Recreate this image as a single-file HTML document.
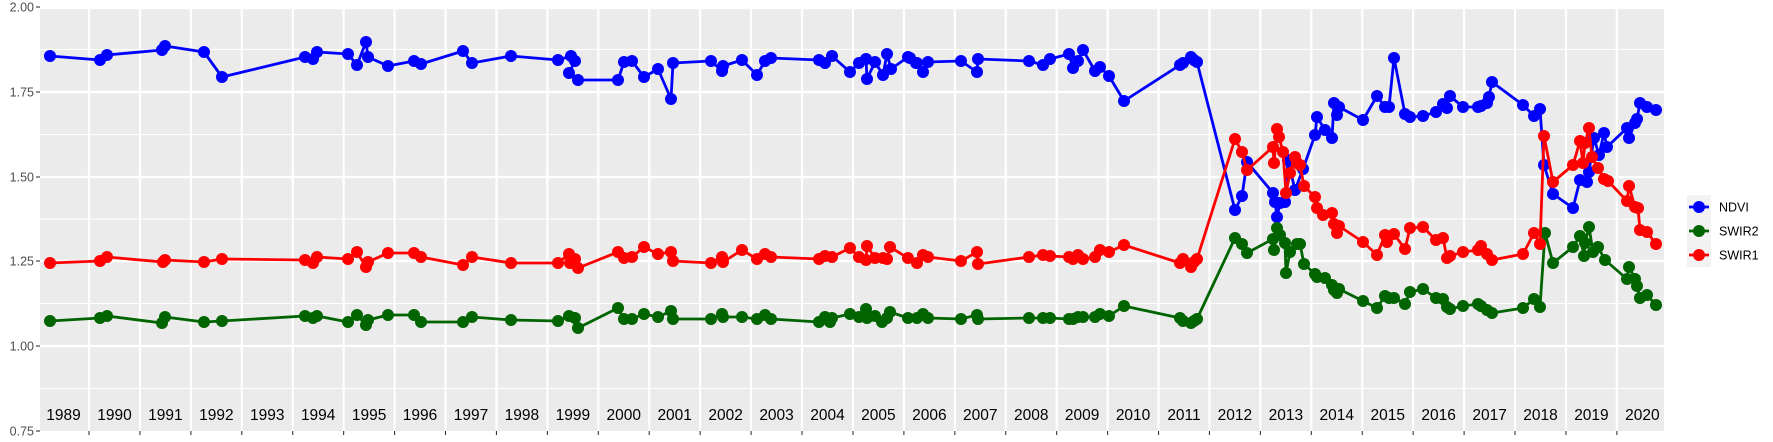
<!DOCTYPE html>
<html><head><meta charset="utf-8"><style>
html,body{margin:0;padding:0;background:#fff}
svg{display:block}
text{font-family:"Liberation Sans",sans-serif}
</style></head><body>
<svg width="1773" height="442" viewBox="0 0 1773 442" xmlns="http://www.w3.org/2000/svg">
<rect x="40" y="7" width="1624" height="424" fill="#ebebeb"/>
<g stroke="#fff" stroke-width="1">
<line x1="40" x2="1664" y1="49.5" y2="49.5"/><line x1="40" x2="1664" y1="134.5" y2="134.5"/><line x1="40" x2="1664" y1="219" y2="219"/><line x1="40" x2="1664" y1="303.5" y2="303.5"/><line x1="40" x2="1664" y1="388.5" y2="388.5"/>
</g>
<g stroke="#fff" stroke-width="2.2">
<line x1="40" x2="1664" y1="8" y2="8"/><line x1="40" x2="1664" y1="92" y2="92"/><line x1="40" x2="1664" y1="177" y2="177"/><line x1="40" x2="1664" y1="261" y2="261"/><line x1="40" x2="1664" y1="346" y2="346"/>
</g>
<g id="vl" stroke="#fff" stroke-width="2.2"></g>
<g id="ticks" stroke="#333" stroke-width="1.1">
<line x1="36" x2="40" y1="7" y2="7"/><line x1="36" x2="40" y1="92" y2="92"/><line x1="36" x2="40" y1="177" y2="177"/><line x1="36" x2="40" y1="261" y2="261"/><line x1="36" x2="40" y1="346" y2="346"/><line x1="36" x2="40" y1="431" y2="431"/>
</g>
<g font-size="12.5" fill="#4d4d4d" text-anchor="end">
<text x="34" y="11.5">2.00</text><text x="34" y="96.5">1.75</text><text x="34" y="181.5">1.50</text><text x="34" y="265.5">1.25</text><text x="34" y="350.5">1.00</text><text x="34" y="435.5">0.75</text>
</g>
<g id="yl" font-size="15.5" fill="#000" text-anchor="middle"></g>
<g id="series"></g>
<rect x="1687" y="195" width="24" height="72" fill="#f2f2f2"/>
<g stroke-width="2.8">
<line x1="1689" x2="1709" y1="207" y2="207" stroke="#0000ff"/><circle cx="1699" cy="207" r="6" fill="#0000ff"/>
<line x1="1689" x2="1709" y1="231" y2="231" stroke="#006400"/><circle cx="1699" cy="231" r="6" fill="#006400"/>
<line x1="1689" x2="1709" y1="255" y2="255" stroke="#ff0000"/><circle cx="1699" cy="255" r="6" fill="#ff0000"/>
</g>
<g font-size="12.5" fill="#000">
<text x="1719" y="211.5">NDVI</text><text x="1719" y="235.5">SWIR2</text><text x="1719" y="259.5">SWIR1</text>
</g>
</svg>
<script>
var NS="http://www.w3.org/2000/svg";
function el(t,a,p){var e=document.createElementNS(NS,t);for(var k in a)e.setAttribute(k,a[k]);p.appendChild(e);return e;}
var vl=document.getElementById('vl'),tk=document.getElementById('ticks'),yl=document.getElementById('yl');
for(var k=0;k<=30;k++){var x=89+k*50.93;el('line',{x1:x,x2:x,y1:7,y2:431},vl);el('line',{x1:x,x2:x,y1:431,y2:435},tk);}
for(var k=0;k<=31;k++){var t=el('text',{x:89+(k-0.5)*50.93,y:420},yl);t.textContent=String(1989+k);}
var N=[[50,56],[100,60],[107,55],[162,50],[165,46],[204,52],[222,77],[305,57],[313,59],[317,52],[348,54],[357,65],[366,42],[368,57],[388,66],[414,61],[421,64],[463,51],[472,63],[511,56],[558,60],[571,56],[575,61],[569,73],[578,80],[618,80],[624,62],[632,61],[644,77],[658,69],[671,99],[673,63],[711,61],[722,71],[723,66],[742,60],[757,75],[765,61],[771,58],[819,60],[825,63],[832,56],[850,72],[859,63],[866,59],[867,79],[875,62],[883,75],[887,54],[891,69],[908,57],[917,63],[910,58],[916,63],[923,72],[928,62],[961,61],[977,72],[978,59],[1029,61],[1043,65],[1050,59],[1069,54],[1073,68],[1078,61],[1083,50],[1095,71],[1100,67],[1109,76],[1124,101],[1180,65],[1183,63],[1191,57],[1194,60],[1197,62],[1235,210],[1242,196],[1247,162],[1273,193],[1275,202],[1277,217],[1280,203],[1285,202],[1288,160],[1295,190],[1303,169],[1315,135],[1317,117],[1325,130],[1332,138],[1334,103],[1337,115],[1339,107],[1363,120],[1377,96],[1385,107],[1389,107],[1394,58],[1405,114],[1410,117],[1423,116],[1436,112],[1443,104],[1447,108],[1450,96],[1463,107],[1478,107],[1481,106],[1487,103],[1489,97],[1492,82],[1523,105],[1534,116],[1540,109],[1544,165],[1553,194],[1573,208],[1580,180],[1587,182],[1589,172],[1594,138],[1599,155],[1604,133],[1607,147],[1627,128],[1629,138],[1635,123],[1637,119],[1640,103],[1647,107],[1656,110]];
var S2=[[50,321],[100,318],[107,316],[162,323],[165,317],[204,322],[222,321],[305,316],[313,318],[317,316],[348,322],[357,315],[366,325],[368,320],[388,315],[414,315],[421,322],[463,322],[472,317],[511,320],[558,321],[569,316],[575,318],[578,328],[618,308],[624,319],[632,319],[644,314],[658,317],[671,311],[673,319],[711,319],[722,314],[723,317],[742,317],[757,319],[765,315],[771,319],[819,322],[825,317],[830,322],[832,318],[850,314],[859,317],[866,309],[867,318],[875,316],[882,322],[887,318],[890,312],[908,318],[917,318],[923,314],[928,318],[961,319],[977,315],[978,319],[1029,318],[1043,318],[1050,318],[1069,319],[1073,319],[1078,317],[1083,317],[1095,317],[1100,314],[1109,316],[1124,306],[1180,318],[1183,321],[1191,323],[1194,321],[1197,319],[1235,238],[1242,244],[1247,253],[1273,239],[1274,250],[1277,228],[1280,235],[1285,243],[1286,273],[1290,252],[1297,244],[1300,244],[1304,264],[1315,274],[1317,277],[1325,278],[1332,285],[1334,290],[1337,293],[1339,289],[1363,301],[1377,308],[1385,296],[1389,298],[1394,298],[1405,304],[1410,292],[1423,289],[1436,298],[1443,299],[1447,307],[1450,309],[1463,306],[1478,304],[1481,306],[1487,310],[1492,313],[1523,308],[1534,299],[1540,307],[1545,233],[1553,263],[1573,247],[1580,236],[1584,256],[1585,243],[1589,227],[1593,252],[1598,247],[1605,260],[1627,279],[1629,267],[1635,279],[1637,286],[1640,298],[1647,295],[1656,305]];
var S1=[[50,263],[100,261],[107,257],[163,262],[165,260],[204,262],[222,259],[305,260],[313,263],[317,257],[348,259],[357,252],[366,267],[368,262],[388,253],[414,253],[421,257],[463,265],[472,257],[511,263],[558,263],[569,254],[575,259],[570,263],[578,268],[618,252],[624,258],[632,257],[644,247],[658,254],[671,252],[673,261],[711,263],[722,257],[723,262],[742,250],[757,259],[765,254],[771,257],[819,259],[825,256],[832,257],[850,248],[859,257],[866,260],[867,246],[875,258],[883,258],[887,259],[890,247],[908,258],[917,263],[923,255],[928,257],[961,261],[977,252],[978,264],[1029,257],[1043,255],[1050,256],[1069,257],[1073,259],[1078,255],[1083,259],[1095,257],[1100,250],[1109,252],[1124,245],[1180,263],[1183,259],[1191,267],[1194,262],[1197,259],[1235,139],[1242,152],[1247,170],[1273,147],[1274,163],[1277,129],[1279,137],[1283,152],[1286,193],[1290,173],[1295,157],[1297,163],[1300,165],[1304,186],[1315,197],[1317,208],[1323,215],[1332,213],[1334,224],[1337,233],[1339,226],[1363,242],[1377,255],[1385,235],[1387,242],[1394,234],[1405,249],[1410,228],[1423,227],[1436,240],[1443,238],[1447,258],[1450,256],[1463,252],[1478,250],[1481,246],[1487,254],[1492,260],[1523,254],[1534,233],[1540,244],[1544,136],[1553,182],[1573,165],[1580,141],[1583,163],[1585,143],[1589,128],[1592,157],[1598,168],[1604,179],[1608,181],[1627,201],[1629,186],[1635,207],[1638,208],[1640,230],[1647,232],[1656,244]];
var g=document.getElementById('series');
function draw(d,c){var p=d.map(function(q){return q.join(',')}).join(' ');
el('polyline',{points:p,fill:'none',stroke:c,'stroke-width':2.8,'stroke-linejoin':'round'},g);
d.forEach(function(q){el('circle',{cx:q[0],cy:q[1],r:6,fill:c},g);});}
draw(N,'#0000ff');draw(S2,'#006400');draw(S1,'#ff0000');
</script>
</body></html>
